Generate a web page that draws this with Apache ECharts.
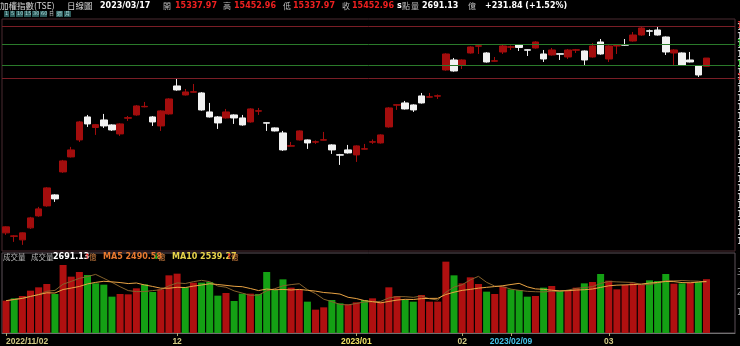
<!DOCTYPE html>
<html><head><meta charset="utf-8">
<script src="https://cdn.jsdelivr.net/npm/echarts@6/dist/echarts.min.js"></script>
<style>html,body{margin:0;padding:0;background:#000;}#c{width:740px;height:346px;}</style>
</head><body><div id="c"></div>
<script>
// ---------------- DATA ----------------
const dates = [
 '2022/11/02','2022/11/03','2022/11/04','2022/11/07','2022/11/08','2022/11/09','2022/11/10','2022/11/11','2022/11/14','2022/11/15',
 '2022/11/16','2022/11/17','2022/11/18','2022/11/21','2022/11/22','2022/11/23','2022/11/24','2022/11/25','2022/11/28','2022/11/29','2022/11/30',
 '2022/12/01','2022/12/02','2022/12/05','2022/12/06','2022/12/07','2022/12/08','2022/12/09','2022/12/12','2022/12/13','2022/12/14',
 '2022/12/15','2022/12/16','2022/12/19','2022/12/20','2022/12/21','2022/12/22','2022/12/23','2022/12/26','2022/12/27','2022/12/28','2022/12/29','2022/12/30',
 '2023/01/03','2023/01/04','2023/01/05','2023/01/06','2023/01/09','2023/01/10','2023/01/11','2023/01/12','2023/01/13','2023/01/16','2023/01/17','2023/01/30','2023/01/31',
 '2023/02/01','2023/02/02','2023/02/03','2023/02/06','2023/02/07','2023/02/08','2023/02/09','2023/02/10','2023/02/13','2023/02/14',
 '2023/02/15','2023/02/16','2023/02/17','2023/02/20','2023/02/21','2023/02/22','2023/02/23','2023/02/24',
 '2023/03/01','2023/03/02','2023/03/03','2023/03/06','2023/03/07','2023/03/08','2023/03/09','2023/03/10','2023/03/13','2023/03/14','2023/03/15','2023/03/16','2023/03/17'
];
const opens = [
 13004,12955,12906,13074,13242,13382,13536,13858,14068,14306,
 14628,14480,14586,14516,14390,14610,14656,14770,14628,14502,14670,
 15062,14936,14975,14964,14698,14628,14614,14656,14614,14558,
 14709,14547,14474,14404,14219,14306,14306,14275,14303,14236,14099,14166,
 14096,14177,14275,14264,14488,14793,14824,14796,14922,14905,14919,15286,15426,
 15356,15524,15619,15524,15409,15538,15605,15636,15569,15594,
 15510,15496,15513,15468,15563,15552,15468,15678,
 15440,15622,15640,15692,15776,15835,15846,15748,15524,15524,15426,15342,15337.97
];
const closes = [
 13088,12962,13004,13214,13340,13634,13480,14012,14166,14558,
 14530,14520,14502,14446,14530,14618,14782,14776,14558,14712,14880,
 15006,14978,14981,14726,14628,14544,14698,14614,14516,14740,
 14715,14541,14432,14166,14225,14432,14264,14281,14309,14166,14093,14124,
 14222,14183,14281,14376,14754,14799,14740,14726,14824,14911,14925,15510,15272,
 15426,15608,15625,15398,15415,15622,15611,15601,15563,15678,
 15440,15566,15507,15566,15569,15426,15622,15510,
 15622,15628,15634,15776,15874,15829,15776,15538,15566,15356,15398,15216,15452.96
];
const lows = [
 12976,12878,12836,13060,13230,13370,13438,13845,14060,14278,
 14488,14376,14474,14432,14362,14572,14645,14762,14502,14432,14660,
 14995,14928,14970,14715,14620,14460,14605,14530,14505,14548,
 14656,14432,14425,14152,14215,14298,14180,14250,14298,14110,13956,14115,
 13998,14172,14250,14255,14478,14726,14732,14698,14815,14898,14880,15276,15262,
 15300,15515,15510,15390,15402,15510,15566,15552,15482,15585,
 15398,15488,15426,15440,15524,15356,15460,15500,
 15398,15510,15626,15684,15766,15762,15768,15496,15356,15348,15392,15188,15337.97
];
const highs = [
 13095,12970,13010,13228,13368,13645,13545,14026,14208,14572,
 14656,14530,14670,14525,14540,14642,14795,14838,14640,14722,14890,
 15160,15020,15090,14975,14824,14640,14740,14665,14656,14750,
 14754,14550,14480,14432,14278,14440,14312,14299,14418,14245,14110,14236,
 14230,14250,14313,14385,14765,14805,14852,14805,14964,14964,14943,15520,15454,
 15435,15618,15632,15535,15468,15650,15629,15645,15575,15688,
 15566,15594,15520,15580,15580,15560,15664,15720,
 15632,15636,15720,15818,15902,15853,15888,15756,15575,15532,15538,15350,15452.96
];
// 成交量 (億)
const volumes = [
 1617,1733,1850,2117,2283,2450,1950,3400,2817,3050,
 2900,2483,2417,1817,1950,1933,2233,2433,2050,2183,2883,
 2967,2283,2517,2517,2550,1867,2000,1600,1967,1967,
 1950,3050,2150,2683,2267,2167,1567,1167,1283,1650,1483,1433,
 1533,1650,1733,1567,2283,1850,1650,1567,1900,1567,1567,3567,2883,
 2483,2783,2450,2067,1950,2317,2183,2150,1817,1850,
 2267,2350,2117,2150,2267,2483,2550,2950,
 2617,2183,2400,2483,2400,2633,2600,2950,2467,2483,2517,2550,2691.13
];
const refLines = [15902, 15650, 15356, 15174];   // 高低參考線
const lastClose = 15452.96;
const tickDates  = ['2022/11/02','2022/12/01','2023/01/03','2023/02/01','2023/02/09','2023/03/01'];
const tickLabels = ['2022/11/02','12','2023/01','02','2023/02/09','03'];

// ---------------- STYLE ----------------
const UP = '#a30d0d', DOWN = '#f2f2f2';
const VOL_UP = '#b01010', VOL_DOWN = '#14a014';
const FONT = 'DejaVu Sans';
const CJK = '"Noto Sans CJK TC"';

const candleData = dates.map((d, i) => [opens[i], closes[i], lows[i], highs[i]]);
const volData = volumes.map((v, i) => ({
  value: v,
  itemStyle: { color: (i === 0 || closes[i] >= closes[i - 1]) ? VOL_UP : VOL_DOWN }
}));
function movingAvg(n) {
  return volumes.map((v, i) => {
    const s = Math.max(0, i - n + 1); let sum = 0;
    for (let k = s; k <= i; k++) sum += volumes[k];
    return +(sum / (i - s + 1)).toFixed(2);
  });
}
const ma5 = movingAvg(5), ma10 = movingAvg(10);

const lineColors = ['#7a1e26', '#2a7a2a', '#2a7a2a', '#7a1e26'];
const lineLabelColors = ['#e03030', '#30c030', '#30c030', '#e03030'];
const markData = refLines.map((v, i) => ({
  yAxis: v,
  lineStyle: { color: lineColors[i], width: 1, type: 'solid' },
  label: { color: lineLabelColors[i] }
}));
markData.push({
  yAxis: lastClose,
  lineStyle: { opacity: 0 },
  label: { color: '#ffffff', backgroundColor: '#159c9c' }
});

const labelStyleOf = { '2022/11/02': 'a', '12': 'a', '2023/01': 'b', '02': 'a', '2023/02/09': 'c', '03': 'a' };

function txt(x, y, text, color, size, weight, family) {
  return { type: 'text', left: x, top: y, silent: true, z: 100,
    style: { text: text, fill: color, font: (weight || 'normal') + ' ' + size + 'px ' + (family || FONT) } };
}
const HS = 8;
const graphics = [
  // header
  txt(0, 2, '加權指數(TSE)', '#d8d8d8', 8.5, 'normal', CJK),
  txt(67, 2, '日線圖', '#d8d8d8', 8.5, 'normal', CJK),
  txt(100, 2, '2023/03/17', '#ffffff', HS, 'bold'),
  txt(163, 2, '開', '#bdbdbd', 8, 'normal', CJK),
  txt(175, 2, '15337.97', '#ee2020', HS, 'bold'),
  txt(223, 2, '高', '#bdbdbd', 8, 'normal', CJK),
  txt(234, 2, '15452.96', '#ee2020', HS, 'bold'),
  txt(283, 2, '低', '#bdbdbd', 8, 'normal', CJK),
  txt(293, 2, '15337.97', '#ee2020', HS, 'bold'),
  txt(342, 2, '收', '#bdbdbd', 8, 'normal', CJK),
  txt(352, 2, '15452.96', '#ee2020', HS, 'bold'),
  txt(397, 2, 's', '#ffffff', HS, 'bold'),
  txt(402, 2, '點', '#bdbdbd', 8, 'normal', CJK),
  txt(411, 2, '量', '#bdbdbd', 8, 'normal', CJK),
  txt(422, 2, '2691.13', '#ffffff', HS, 'bold'),
  txt(468, 2, '億', '#bdbdbd', 8, 'normal', CJK),
  txt(485, 2, '+231.84 (+1.52%)', '#ffffff', HS, 'bold'),
  // volume legend
  txt(3, 253, '成交量', '#b8b8b8', 7.5, 'normal', CJK),
  txt(31, 253, '成交量', '#b8b8b8', 7.5, 'normal', CJK),
  txt(53, 253, '2691.13', '#ffffff', 8, 'bold'),
  txt(84, 253, '↑', '#e02020', 7.5, 'bold'),
  txt(89, 253, '億', '#d08040', 7.5, 'normal', CJK),
  txt(103, 253, 'MA5 2490.58', '#e87a30', 8, 'bold'),
  txt(153, 253, '↓', '#20c020', 7.5, 'bold'),
  txt(158, 253, '億', '#d08040', 7.5, 'normal', CJK),
  txt(172, 253, 'MA10 2539.27', '#e8d44a', 8, 'bold'),
  txt(226, 253, '↑', '#e02020', 7.5, 'bold'),
  txt(231, 253, '億', '#d08040', 7.5, 'normal', CJK)
];
// period buttons row
const btns = [['1',4,5],['5',10,5],['10',16,7],['15',24,7],['30',32,7],['60',40,7],['日',48,6],['週',56,7],['月',64,7]];
btns.forEach(b => {
  const active = b[0] !== '日';
  graphics.push({ type: 'rect', silent: true, z: 99, shape: { x: b[1], y: 11, width: b[2], height: 6 },
    style: { fill: active ? '#2c5a5a' : '#000000' } });
  graphics.push({ type: 'text', silent: true, z: 100, left: b[1] + 1, top: 11,
    style: { text: b[0], fill: active ? '#a8d8d8' : '#d0d0d0', font: '5px ' + (/[0-9]/.test(b[0]) ? FONT : CJK) } });
});

const AXF = 'Liberation Sans';
const option = {
  backgroundColor: '#000000',
  animation: false,
  graphic: graphics,
  grid: [
    { left: 2, right: 5, top: 19, height: 232, show: true, borderColor: '#4a2a30', borderWidth: 1, backgroundColor: 'transparent', containLabel: false, outerBoundsMode: 'none' },
    { left: 2, right: 5, top: 253, height: 80, show: true, borderColor: '#5c5058', borderWidth: 1, backgroundColor: 'transparent', containLabel: false, outerBoundsMode: 'none' }
  ],
  xAxis: [
    { gridIndex: 0, type: 'category', data: dates, max: dates.length + 2, boundaryGap: true,
      axisLine: { show: false }, axisTick: { show: false }, axisLabel: { show: false }, splitLine: { show: false } },
    { gridIndex: 1, type: 'category', data: dates, max: dates.length + 2, boundaryGap: true,
      axisLine: { show: true, lineStyle: { color: '#707070' } },
      axisTick: { show: true, alignWithLabel: true, length: 3, lineStyle: { color: '#b0a870' },
        interval: (idx, val) => tickDates.indexOf(val) >= 0 },
      axisLabel: {
        show: true, margin: 4, alignMinLabel: 'left',
        interval: (idx, val) => tickDates.indexOf(val) >= 0,
        formatter: (val) => { const k = tickDates.indexOf(val); if (k < 0) return ''; const t = tickLabels[k]; return '{' + labelStyleOf[t] + '|' + t + '}'; },
        rich: {
          a: { color: '#d2ca84', fontSize: 8.5, fontWeight: 'bold', fontFamily: AXF },
          b: { color: '#f0e264', fontSize: 8.5, fontWeight: 'bold', fontFamily: AXF },
          c: { color: '#44c4ea', fontSize: 8.5, fontWeight: 'bold', fontFamily: AXF }
        }
      },
      splitLine: { show: false } }
  ],
  yAxis: [
    { gridIndex: 0, type: 'value', position: 'right', min: 12750, max: 16000, interval: 125,
      axisLine: { show: false }, axisTick: { show: false }, splitLine: { show: false },
      axisLabel: { color: '#dddddd', fontSize: 8, margin: 2, showMinLabel: false, showMaxLabel: false, fontFamily: FONT } },
    { gridIndex: 1, type: 'value', position: 'right', min: 0, max: 4000, interval: 1000,
      axisLine: { show: false }, axisTick: { show: false }, splitLine: { show: false },
      axisLabel: { color: '#9a9a9a', fontSize: 8, margin: 2, showMinLabel: false, showMaxLabel: false, fontFamily: FONT } }
  ],
  series: [
    { type: 'candlestick', xAxisIndex: 0, yAxisIndex: 0, data: candleData, barWidth: 7,
      itemStyle: { color: UP, color0: DOWN, borderColor: UP, borderColor0: DOWN, borderWidth: 1 },
      markLine: { silent: true, symbol: ['none', 'none'], animation: false,
        label: { show: true, position: 'end', distance: 2, fontSize: 8, fontFamily: FONT, formatter: p => p.value },
        data: markData } },
    { type: 'bar', xAxisIndex: 1, yAxisIndex: 1, data: volData, barWidth: 7 },
    { type: 'line', xAxisIndex: 1, yAxisIndex: 1, data: ma5, showSymbol: false, symbol: 'none',
      lineStyle: { color: '#86622c', width: 1 }, z: 5 },
    { type: 'line', xAxisIndex: 1, yAxisIndex: 1, data: ma10, showSymbol: false, symbol: 'none',
      lineStyle: { color: '#eaa444', width: 1 }, z: 5 }
  ]
};
const chart = echarts.init(document.getElementById('c'));
chart.setOption(option);
</script>
</body></html>
